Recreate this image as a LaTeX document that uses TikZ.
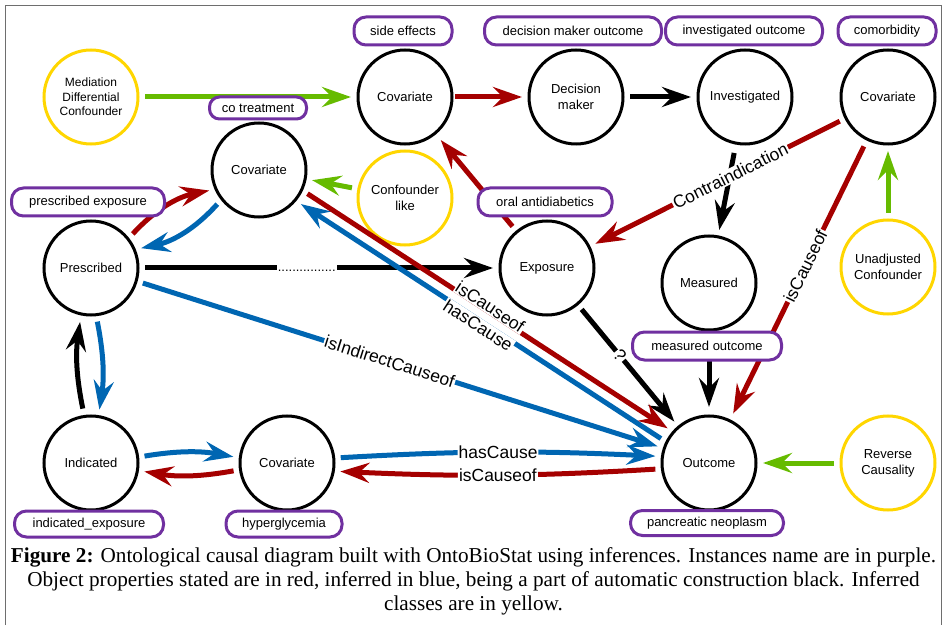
\documentclass[tikz,border=0pt]{standalone}
\usepackage{fontspec}
\setmainfont{Liberation Sans}
\newfontfamily\capfont{Liberation Serif}
\usetikzlibrary{arrows.meta}

\definecolor{cred}{RGB}{165,0,0}
\definecolor{cblue}{RGB}{0,102,178}
\definecolor{cgreen}{RGB}{102,187,0}
\definecolor{cyellow}{RGB}{255,214,0}
\definecolor{cpurple}{RGB}{112,48,160}
\definecolor{cframe}{RGB}{110,110,110}

\begin{document}
\begin{tikzpicture}[x=1pt,y=1pt,
  cls/.style={circle, draw=black, line width=3pt, fill=white, minimum size=94pt, inner sep=0pt, outer sep=0pt, align=center, font=\fontsize{13}{16}\selectfont},
  inf/.style={cls, draw=cyellow},
  inst/.style={rounded corners=12pt, draw=cpurple, line width=3pt, fill=white, minimum height=28pt, inner sep=0pt, font=\fontsize{13}{15}\selectfont},
  edge/.style={line width=5pt, shorten <=7pt, shorten >=7pt, -{Stealth[length=29pt,width=20pt,inset=10pt]}},
  elab/.style={fill=white, text=black, inner sep=1pt, sloped, font=\fontsize{17.5}{20}\selectfont},
]
\useasboundingbox (0,0) rectangle (943,625);
\draw[cframe, line width=1.3pt] (5.7,0) -- (5.7,619.3) -- (941.5,619.3) -- (941.5,0);

% class nodes
\node[inf, font=\fontsize{12}{14.3}\selectfont] (med) at (91,528) {Mediation\\Differential\\Confounder};
\node[cls] (covT) at (405,528) {Covariate};
\node[cls] (dec) at (576,528) {Decision\\maker};
\node[cls] (inv) at (745,528) {Investigated};
\node[cls] (covC) at (888,528) {Covariate};
\node[cls] (cot) at (259,455) {Covariate};
\node[inf] (conf) at (405,427) {Confounder\\like};
\node[cls] (pres) at (91,357) {Prescribed};
\node[cls] (expo) at (547,357) {Exposure};
\node[cls] (meas) at (709,342) {Measured};
\node[inf] (unadj) at (888,358) {Unadjusted\\Confounder};
\node[cls] (outc) at (709,162) {Outcome};
\node[inf] (rev) at (888,162) {Reverse\\Causality};
\node[cls] (ind) at (91,162) {Indicated};
\node[cls] (hyp) at (287,162) {Covariate};

% green (inferred classes)
\draw[edge, cgreen] (med) -- (covT);
\draw[edge, cgreen] (conf) -- (cot);
\draw[edge, cgreen] (unadj) -- (covC);
\draw[edge, cgreen] (rev) -- (outc);

% black (automatic construction)
\draw[edge, black] (dec) -- (inv);
\draw[edge, black, shorten <=10pt] (inv) -- (meas);
\draw[edge, black, shorten >=9pt] (meas) -- (outc);
\draw[edge, black] (pres) -- (expo)
  node[pos=0.466, fill=white, inner sep=1pt, text height=8pt, text depth=0pt, font=\fontsize{13}{15}\selectfont] (dots) {................};
\draw[edge, black, shorten <=8pt, shorten >=8pt] (ind.98) to[bend left=10] (pres.258);
\draw[edge, black] (expo.-50) -- (outc.130) node[elab, pos=0.42] (qm) {?};

% blue (inferred)
\draw[edge, cblue] (cot.218) to[bend left=18] (pres.23);
\draw[edge, cblue] (pres.-84) to[bend left=10] (ind.81);
\draw[edge, cblue] (ind.7.5) to[bend left=10] (hyp.174);
\draw[edge, cblue] (hyp.6.5) to[bend left=3] node[elab, midway] (l1) {hasCause} (outc.172.6);
\draw[edge, cblue] (outc.154) -- (cot.-40) node[elab, midway, anchor=north, outer sep=-2.5pt] (l2) {hasCause};
\draw[edge, cblue] (pres.-16) -- (outc.162.6) node[elab, pos=0.48] (l3) {isIndirectCauseof};

% red (stated)
\draw[edge, cred, shorten <=3pt] (covT) -- (dec);
\draw[edge, cred, shorten >=9pt] (expo) -- (covT);
\draw[edge, cred] (pres.38) to[bend left=18] (cot.204);
\draw[edge, cred] (hyp.188) to[bend left=10] (ind.-9.5);
\draw[edge, cred] (outc.187) to[bend left=3] node[elab, midway] (l4) {isCauseof} (hyp.-10);
\draw[edge, cred] (cot.-25) -- (outc.139.5) node[elab, pos=0.5, anchor=south, outer sep=-2.5pt] (l5) {isCauseof};
\draw[edge, cred, shorten <=8pt, shorten >=8pt] (covC) -- (outc) node[elab, pos=0.45] (l6) {isCauseof};
\draw[edge, cred] (covC) -- (expo) node[elab, pos=0.45] (l7) {Contraindication};

% instance labels
\node[inst, minimum width=98pt] (lse) at (403,594) {side effects};
\node[inst, minimum width=177pt] (ldm) at (573,594) {decision maker outcome};
\node[inst, minimum width=157pt] (lio) at (744,594) {investigated outcome};
\node[inst, minimum width=98pt] (lcm) at (887,594) {comorbidity};
\node[inst, minimum width=97pt, minimum height=22pt, rounded corners=10pt] (lct) at (258,517) {co treatment};
\node[inst, minimum width=153pt] (lpe) at (88,423) {prescribed exposure};
\node[inst, minimum width=134pt] (loa) at (545,423) {oral antidiabetics};
\node[inst, minimum width=149pt] (lmo) at (707,279) {measured outcome};
\node[inst, minimum width=153pt, minimum height=25pt] (lpn) at (707,102) {pancreatic neoplasm};
\node[inst, minimum width=149pt, minimum height=26pt] (lie) at (89,101) {indicated\_exposure};
\node[inst, minimum width=116pt, minimum height=26pt] (lhy) at (284,101) {hyperglycemia};

% caption
\node[anchor=base, inner sep=0pt, font=\capfont\fontsize{21.2}{24}\selectfont] (cap1) at (473.5,62.3) {\textbf{Figure 2:} Ontological causal diagram built with OntoBioStat using inferences. Instances name are in purple.};
\node[anchor=base, inner sep=0pt, font=\capfont\fontsize{21.2}{24}\selectfont] (cap2) at (473.5,38.3) {Object properties stated are in red, inferred in blue, being a part of automatic construction black. Inferred};
\node[anchor=base, inner sep=0pt, font=\capfont\fontsize{21.2}{24}\selectfont] (cap3) at (473.5,14.3) {classes are in yellow.};
\end{tikzpicture}
\end{document}
